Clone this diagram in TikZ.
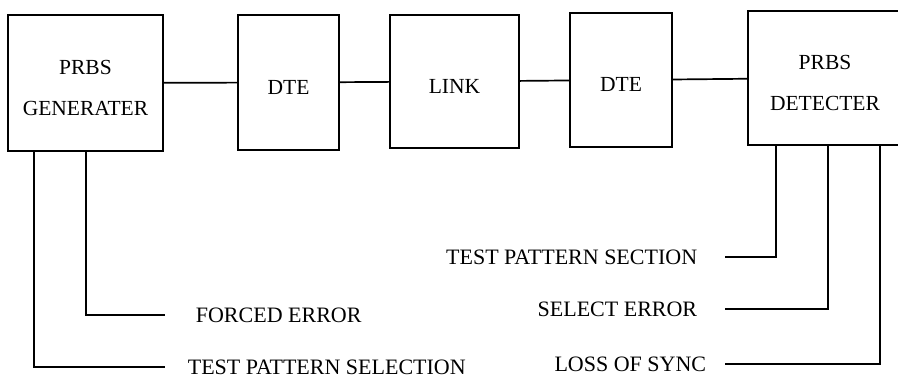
\documentclass[tikz,border=0pt]{standalone}
\usepackage{fontspec}
\setmainfont{Liberation Serif}
\newcommand{\toppad}{\rule{0pt}{24pt}}
\tikzset{
  blk/.style={draw,line width=1.7pt,align=center,inner sep=0pt,outer sep=0pt,
    font=\fontsize{21.5}{41}\selectfont},
  lbl/.style={inner sep=0pt,font=\fontsize{22}{26}\selectfont},
}

\begin{document}
\begin{tikzpicture}[x=1pt,y=-1pt,line width=1.7pt]
  \useasboundingbox (0,0) rectangle (898,382);
  \clip (0,0) rectangle (898,382);
  \node[blk,minimum width=155pt,minimum height=136pt] (g) at (85.5,83){\toppad PRBS\\GENERATER};
  \node[blk,minimum width=101pt,minimum height=135pt] (d1) at (288.5,82.5){\toppad DTE};
  \node[blk,minimum width=129pt,minimum height=133pt] (lk) at (454.5,81.5){\toppad LINK};
  \node[blk,minimum width=102pt,minimum height=134pt] (d2) at (621,80){\toppad DTE};
  \node[blk,minimum width=154pt,minimum height=134pt] (det) at (825,78){\toppad PRBS\\DETECTER};
  \draw (g) -- (d1) -- (lk) -- (d2) -- (det);

  \node[lbl,anchor=west] (fe) at (195,315){FORCED ERROR};
  \node[lbl,anchor=west] (tpsel) at (187,367){TEST PATTERN SELECTION};
  \node[lbl,anchor=east] (tpsec) at (698,257){TEST PATTERN SECTION};
  \node[lbl,anchor=east] (se) at (698,309){SELECT ERROR};
  \node[lbl,anchor=east] (los) at (707,364){LOSS OF SYNC};

  \draw ([xshift=78pt]g.south west) |- ([xshift=-30pt]fe.west);
  \draw ([xshift=26pt]g.south west) |- ([xshift=-22pt]tpsel.west);
  \draw ([xshift=28pt]det.south west) |- ([xshift=27pt]tpsec.east);
  \draw ([xshift=80pt]det.south west) |- ([xshift=27pt]se.east);
  \draw ([xshift=132pt]det.south west) |- ([xshift=18pt]los.east);
\end{tikzpicture}
\end{document}
